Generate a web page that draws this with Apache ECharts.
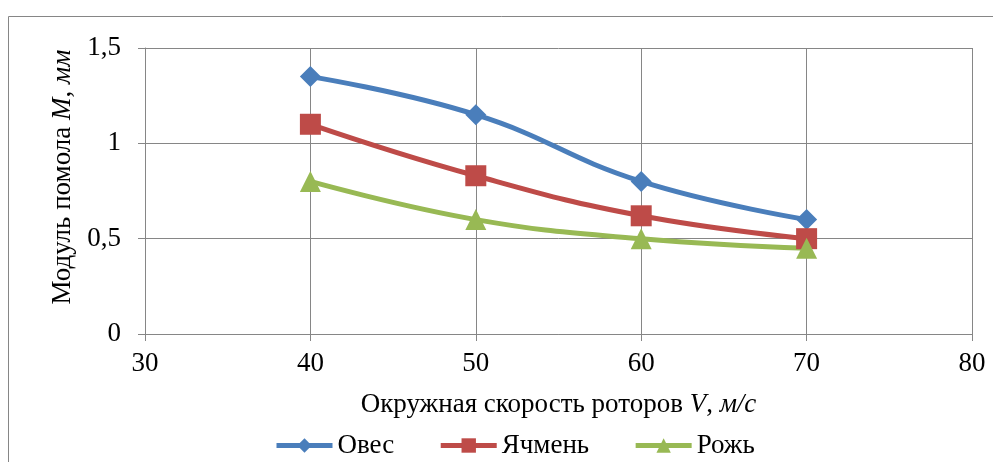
<!DOCTYPE html>
<html><head><meta charset="utf-8">
<script src="https://cdn.jsdelivr.net/npm/echarts@6/dist/echarts.min.js"></script>
<style>html,body{margin:0;padding:0;background:#fff}#c{width:993px;height:462px}</style>
</head><body><div id="c"></div>
<script>
const speeds = [40, 50, 60, 70];
const oats = [1.35, 1.15, 0.80, 0.60];
const barley = [1.10, 0.83, 0.62, 0.50];
const rye = [0.80, 0.60, 0.50, 0.45];
const seriesNames = ['Овес', 'Ячмень', 'Рожь'];

const FONT = 'Liberation Serif';
const FS = 27;
const GRID = '#868686';
const pairs = v => speeds.map((s, i) => [s, v[i]]);
const comma = v => String(v).replace('.', ',');

const chart = echarts.init(document.getElementById('c'));
const mk = (name, data, color, symbol) => ({
  name, type: 'line', data: pairs(data), smooth: 0.45,
  symbol, symbolSize: 21,
  lineStyle: { color, width: 5 },
  itemStyle: { color },
  emphasis: { disabled: true }
});
chart.setOption({
  animation: false,
  textStyle: { fontFamily: FONT },
  grid: { left: 145, right: 21, top: 48, bottom: 128 },
  xAxis: {
    type: 'value', min: 30, max: 80, interval: 10,
    name: 'Окружная скорость роторов {i|V}, {i|м/с}',
    nameLocation: 'middle', nameGap: 57,
    nameTextStyle: { fontFamily: FONT, fontSize: FS, color: '#000',
      rich: { i: { fontFamily: FONT, fontSize: FS, fontStyle: 'italic', color: '#000' } } },
    axisLine: { show: true, lineStyle: { color: GRID, width: 1 } },
    axisTick: { show: true, length: 7, lineStyle: { color: GRID } },
    splitLine: { show: true, lineStyle: { color: GRID, width: 1 } },
    axisLabel: { color: '#000', fontSize: FS, fontFamily: FONT, margin: 16, formatter: comma }
  },
  yAxis: {
    type: 'value', min: 0, max: 1.5, interval: 0.5,
    name: 'Модуль помола {i|M}, {i|мм}',
    nameLocation: 'middle', nameGap: 68, nameRotate: 90,
    nameTextStyle: { fontFamily: FONT, fontSize: FS, color: '#000', padding: [0, 0, 0, 28],
      rich: { i: { fontFamily: FONT, fontSize: FS, fontStyle: 'italic', color: '#000' } } },
    axisLine: { show: true, lineStyle: { color: GRID, width: 1 } },
    axisTick: { show: true, length: 7, lineStyle: { color: GRID } },
    splitLine: { show: true, lineStyle: { color: GRID, width: 1 } },
    axisLabel: { color: '#000', fontSize: FS, fontFamily: FONT, margin: 24, formatter: comma }
  },
  legend: {
    left: 274, top: 432, padding: 0, itemWidth: 56, itemHeight: 18, itemGap: 44,
    lineStyle: { width: 5 },
    textStyle: { fontFamily: FONT, fontSize: FS, color: '#000' },
    data: seriesNames
  },
  graphic: [{
    type: 'rect', silent: true, z: -10,
    shape: { x: 8.5, y: 16.5, width: 1100, height: 600 },
    style: { fill: 'none', stroke: GRID, lineWidth: 1 }
  }],
  series: [
    mk(seriesNames[0], oats, '#4A7EBB', 'diamond'),
    mk(seriesNames[1], barley, '#BE4B48', 'rect'),
    mk(seriesNames[2], rye, '#98B954', 'triangle')
  ]
});
</script></body></html>
